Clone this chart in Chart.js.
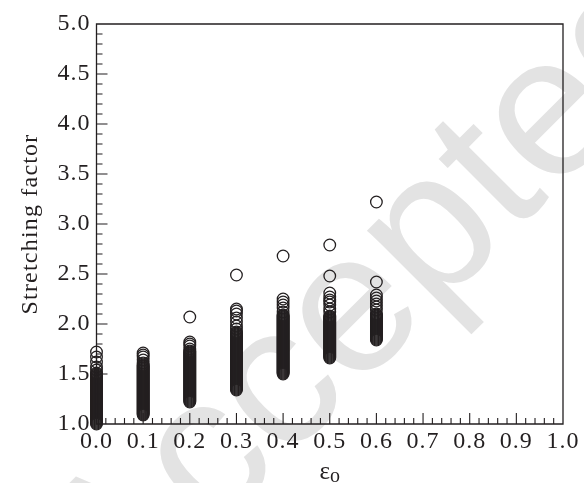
<!DOCTYPE html>
<html>
<head>
<meta charset="utf-8">
<script src="https://cdn.jsdelivr.net/npm/chart.js@4/dist/chart.umd.min.js"></script>
<style>
  html, body { margin: 0; padding: 0; background: #ffffff; }
  #wrap { width: 584px; height: 483px; }
</style>
</head>
<body>
<div id="wrap"><canvas id="chart" width="584" height="483"></canvas></div>
<script>
// Initial strain levels (x positions of the columns)
const epsLevels = [0.0, 0.1, 0.2, 0.3, 0.4, 0.5, 0.6];

// Stretching factor values observed at each strain level
const sf00 = [1.72, 1.67, 1.62, 1.57, 1.54,
  1.51, 1.50, 1.49, 1.48, 1.47, 1.46, 1.45, 1.44, 1.43, 1.42, 1.41, 1.40, 1.39, 1.38, 1.37, 1.36,
  1.35, 1.34, 1.33, 1.32, 1.31, 1.30, 1.29, 1.28, 1.27, 1.26, 1.25, 1.24, 1.23, 1.22, 1.21, 1.20,
  1.19, 1.18, 1.17, 1.16, 1.15, 1.14, 1.13, 1.12, 1.11, 1.10, 1.09, 1.08, 1.07, 1.06, 1.05, 1.04,
  1.03, 1.02, 1.01, 1.00];
const sf01 = [1.71, 1.69, 1.67, 1.64, 1.61,
  1.59, 1.58, 1.57, 1.56, 1.55, 1.54, 1.53, 1.52, 1.51, 1.50, 1.49, 1.48, 1.47, 1.46, 1.45, 1.44,
  1.43, 1.42, 1.41, 1.40, 1.39, 1.38, 1.37, 1.36, 1.35, 1.34, 1.33, 1.32, 1.31, 1.30, 1.29, 1.28,
  1.27, 1.26, 1.25, 1.24, 1.23, 1.22, 1.21, 1.20, 1.19, 1.18, 1.17, 1.16, 1.15, 1.14, 1.13, 1.12,
  1.11, 1.10, 1.09];
const sf02 = [2.07, 1.82, 1.80, 1.78, 1.75,
  1.73, 1.72, 1.71, 1.70, 1.69, 1.68, 1.67, 1.66, 1.65, 1.64, 1.63, 1.62, 1.61, 1.60, 1.59, 1.58,
  1.57, 1.56, 1.55, 1.54, 1.53, 1.52, 1.51, 1.50, 1.49, 1.48, 1.47, 1.46, 1.45, 1.44, 1.43, 1.42,
  1.41, 1.40, 1.39, 1.38, 1.37, 1.36, 1.35, 1.34, 1.33, 1.32, 1.31, 1.30, 1.29, 1.28, 1.27, 1.26,
  1.25, 1.24, 1.23, 1.22];
const sf03 = [2.49, 2.15, 2.13, 2.10, 2.06, 2.02, 1.98, 1.95,
  1.92, 1.91, 1.90, 1.89, 1.88, 1.87, 1.86, 1.85, 1.84, 1.83, 1.82, 1.81, 1.80, 1.79, 1.78, 1.77,
  1.76, 1.75, 1.74, 1.73, 1.72, 1.71, 1.70, 1.69, 1.68, 1.67, 1.66, 1.65, 1.64, 1.63, 1.62, 1.61,
  1.60, 1.59, 1.58, 1.57, 1.56, 1.55, 1.54, 1.53, 1.52, 1.51, 1.50, 1.49, 1.48, 1.47, 1.46, 1.45,
  1.44, 1.43, 1.42, 1.41, 1.40, 1.39, 1.38, 1.37, 1.36, 1.35, 1.34];
const sf04 = [2.68, 2.25, 2.22, 2.19, 2.16, 2.12,
  2.09, 2.08, 2.07, 2.06, 2.05, 2.04, 2.03, 2.02, 2.01, 2.00, 1.99, 1.98, 1.97, 1.96, 1.95, 1.94,
  1.93, 1.92, 1.91, 1.90, 1.89, 1.88, 1.87, 1.86, 1.85, 1.84, 1.83, 1.82, 1.81, 1.80, 1.79, 1.78,
  1.77, 1.76, 1.75, 1.74, 1.73, 1.72, 1.71, 1.70, 1.69, 1.68, 1.67, 1.66, 1.65, 1.64, 1.63, 1.62,
  1.61, 1.60, 1.59, 1.58, 1.57, 1.56, 1.55, 1.54, 1.53, 1.52, 1.51, 1.50];
const sf05 = [2.79, 2.48, 2.31, 2.27, 2.24, 2.22, 2.19, 2.15, 2.12,
  2.08, 2.07, 2.06, 2.05, 2.04, 2.03, 2.02, 2.01, 2.00, 1.99, 1.98, 1.97, 1.96, 1.95, 1.94, 1.93,
  1.92, 1.91, 1.90, 1.89, 1.88, 1.87, 1.86, 1.85, 1.84, 1.83, 1.82, 1.81, 1.80, 1.79, 1.78, 1.77,
  1.76, 1.75, 1.74, 1.73, 1.72, 1.71, 1.70, 1.69, 1.68, 1.67, 1.66];
const sf06 = [3.22, 2.42, 2.29, 2.26, 2.23, 2.20, 2.17, 2.14,
  2.10, 2.09, 2.08, 2.07, 2.06, 2.05, 2.04, 2.03, 2.02, 2.01, 2.00, 1.99, 1.98, 1.97, 1.96, 1.95,
  1.94, 1.93, 1.92, 1.91, 1.90, 1.89, 1.88, 1.87, 1.86, 1.85, 1.84];

const columns = [sf00, sf01, sf02, sf03, sf04, sf05, sf06];

// Axis tick values
const xTickStep = 0.1;
const xMinorStep = 0.02;
const yTickStep = 0.5;
const yMinorStep = 0.1;

const INK = '#231f20';
const SERIF = '"Liberation Serif", "Times New Roman", serif';

const points = [];
columns.forEach((col, i) => col.forEach(v => points.push({ x: epsLevels[i], y: v })));

// Faint diagonal stamp behind the plot
const stampPlugin = {
  id: 'stamp',
  beforeDraw(chart) {
    const ctx = chart.ctx;
    ctx.save();
    ctx.fillStyle = '#ffffff';
    ctx.fillRect(0, 0, chart.width, chart.height);
    ctx.translate(413, 334);
    ctx.rotate(-Math.PI / 4);
    ctx.font = '200px "Liberation Sans", Arial, sans-serif';
    ctx.fillStyle = '#e3e3e3';
    ctx.textAlign = 'center';
    ctx.textBaseline = 'alphabetic';
    ctx.fillText('Accepted', 0, 0);
    ctx.restore();
    // serif text in this figure is set slightly loose
    ctx.letterSpacing = '1px';
  }
};

// Framed axes with inward major and minor ticks, plus axis titles
const framePlugin = {
  id: 'frame',
  afterDraw(chart) {
    const ctx = chart.ctx;
    const { left, right, top, bottom } = chart.chartArea;
    const xs = chart.scales.x, ys = chart.scales.y;
    ctx.save();
    ctx.strokeStyle = INK;
    ctx.lineWidth = 1.3;
    ctx.beginPath();
    ctx.rect(left, top, right - left, bottom - top);
    ctx.stroke();

    ctx.lineWidth = 1.1;
    ctx.beginPath();
    const nx = Math.round((xs.max - xs.min) / xMinorStep);
    for (let i = 1; i < nx; i++) {
      const v = xs.min + i * xMinorStep;
      const px = xs.getPixelForValue(v);
      const major = i % Math.round(xTickStep / xMinorStep) === 0;
      ctx.moveTo(px, bottom);
      ctx.lineTo(px, bottom - (major ? 11 : 6));
    }
    const ny = Math.round((ys.max - ys.min) / yMinorStep);
    for (let i = 1; i < ny; i++) {
      const v = ys.min + i * yMinorStep;
      const py = ys.getPixelForValue(v);
      const major = i % Math.round(yTickStep / yMinorStep) === 0;
      ctx.moveTo(left, py);
      ctx.lineTo(left + (major ? 11 : 6), py);
    }
    ctx.stroke();

    // y-axis title
    ctx.fillStyle = INK;
    ctx.letterSpacing = '1.2px';
    ctx.save();
    ctx.translate(37, (top + bottom) / 2);
    ctx.rotate(-Math.PI / 2);
    ctx.font = '24px ' + SERIF;
    ctx.textAlign = 'center';
    ctx.textBaseline = 'alphabetic';
    ctx.fillText('Stretching factor', 0, 0);
    ctx.restore();

    // x-axis title: epsilon with subscript o
    ctx.letterSpacing = '0px';
    ctx.textBaseline = 'alphabetic';
    ctx.textAlign = 'left';
    const cx = (left + right) / 2;
    ctx.font = '25px ' + SERIF;
    const w1 = ctx.measureText('ε').width;
    ctx.font = '20px ' + SERIF;
    const w2 = ctx.measureText('o').width;
    const x0 = cx - (w1 + w2) / 2;
    ctx.font = '25px ' + SERIF;
    ctx.fillText('ε', x0, 479);
    ctx.font = '20px ' + SERIF;
    ctx.fillText('o', x0 + w1, 482);
    ctx.restore();
  }
};

new Chart(document.getElementById('chart'), {
  type: 'scatter',
  data: {
    datasets: [{
      data: points,
      pointStyle: 'circle',
      pointRadius: 5.8,
      pointHoverRadius: 5.8,
      pointBorderWidth: 1.3,
      pointBackgroundColor: 'rgba(0,0,0,0)',
      pointBorderColor: INK,
      showLine: false,
      clip: false
    }]
  },
  options: {
    responsive: false,
    animation: false,
    events: [],
    layout: { padding: { top: 24, right: 21, left: 0, bottom: 0 } },
    plugins: { legend: { display: false }, tooltip: { enabled: false } },
    scales: {
      x: {
        type: 'linear',
        min: 0, max: 1,
        afterFit: s => { s.height = 59; },
        afterBuildTicks: s => {
          s.ticks = [];
          for (let i = 0; i <= 10; i++) s.ticks.push({ value: +(i * xTickStep).toFixed(1) });
        },
        ticks: {
          callback: v => v.toFixed(1),
          font: { family: SERIF, size: 24 },
          color: INK,
          padding: 3,
          maxRotation: 0,
          autoSkip: false
        },
        grid: { display: false, drawTicks: false },
        border: { display: false }
      },
      y: {
        type: 'linear',
        min: 1, max: 5,
        afterFit: s => { s.width = 96.5; },
        afterBuildTicks: s => {
          s.ticks = [];
          for (let i = 0; i <= 8; i++) s.ticks.push({ value: 1 + i * yTickStep });
        },
        ticks: {
          callback: v => v.toFixed(1),
          font: { family: SERIF, size: 24 },
          color: INK,
          padding: 6,
          autoSkip: false
        },
        grid: { display: false, drawTicks: false },
        border: { display: false }
      }
    }
  },
  plugins: [stampPlugin, framePlugin]
});
</script>
</body>
</html>
